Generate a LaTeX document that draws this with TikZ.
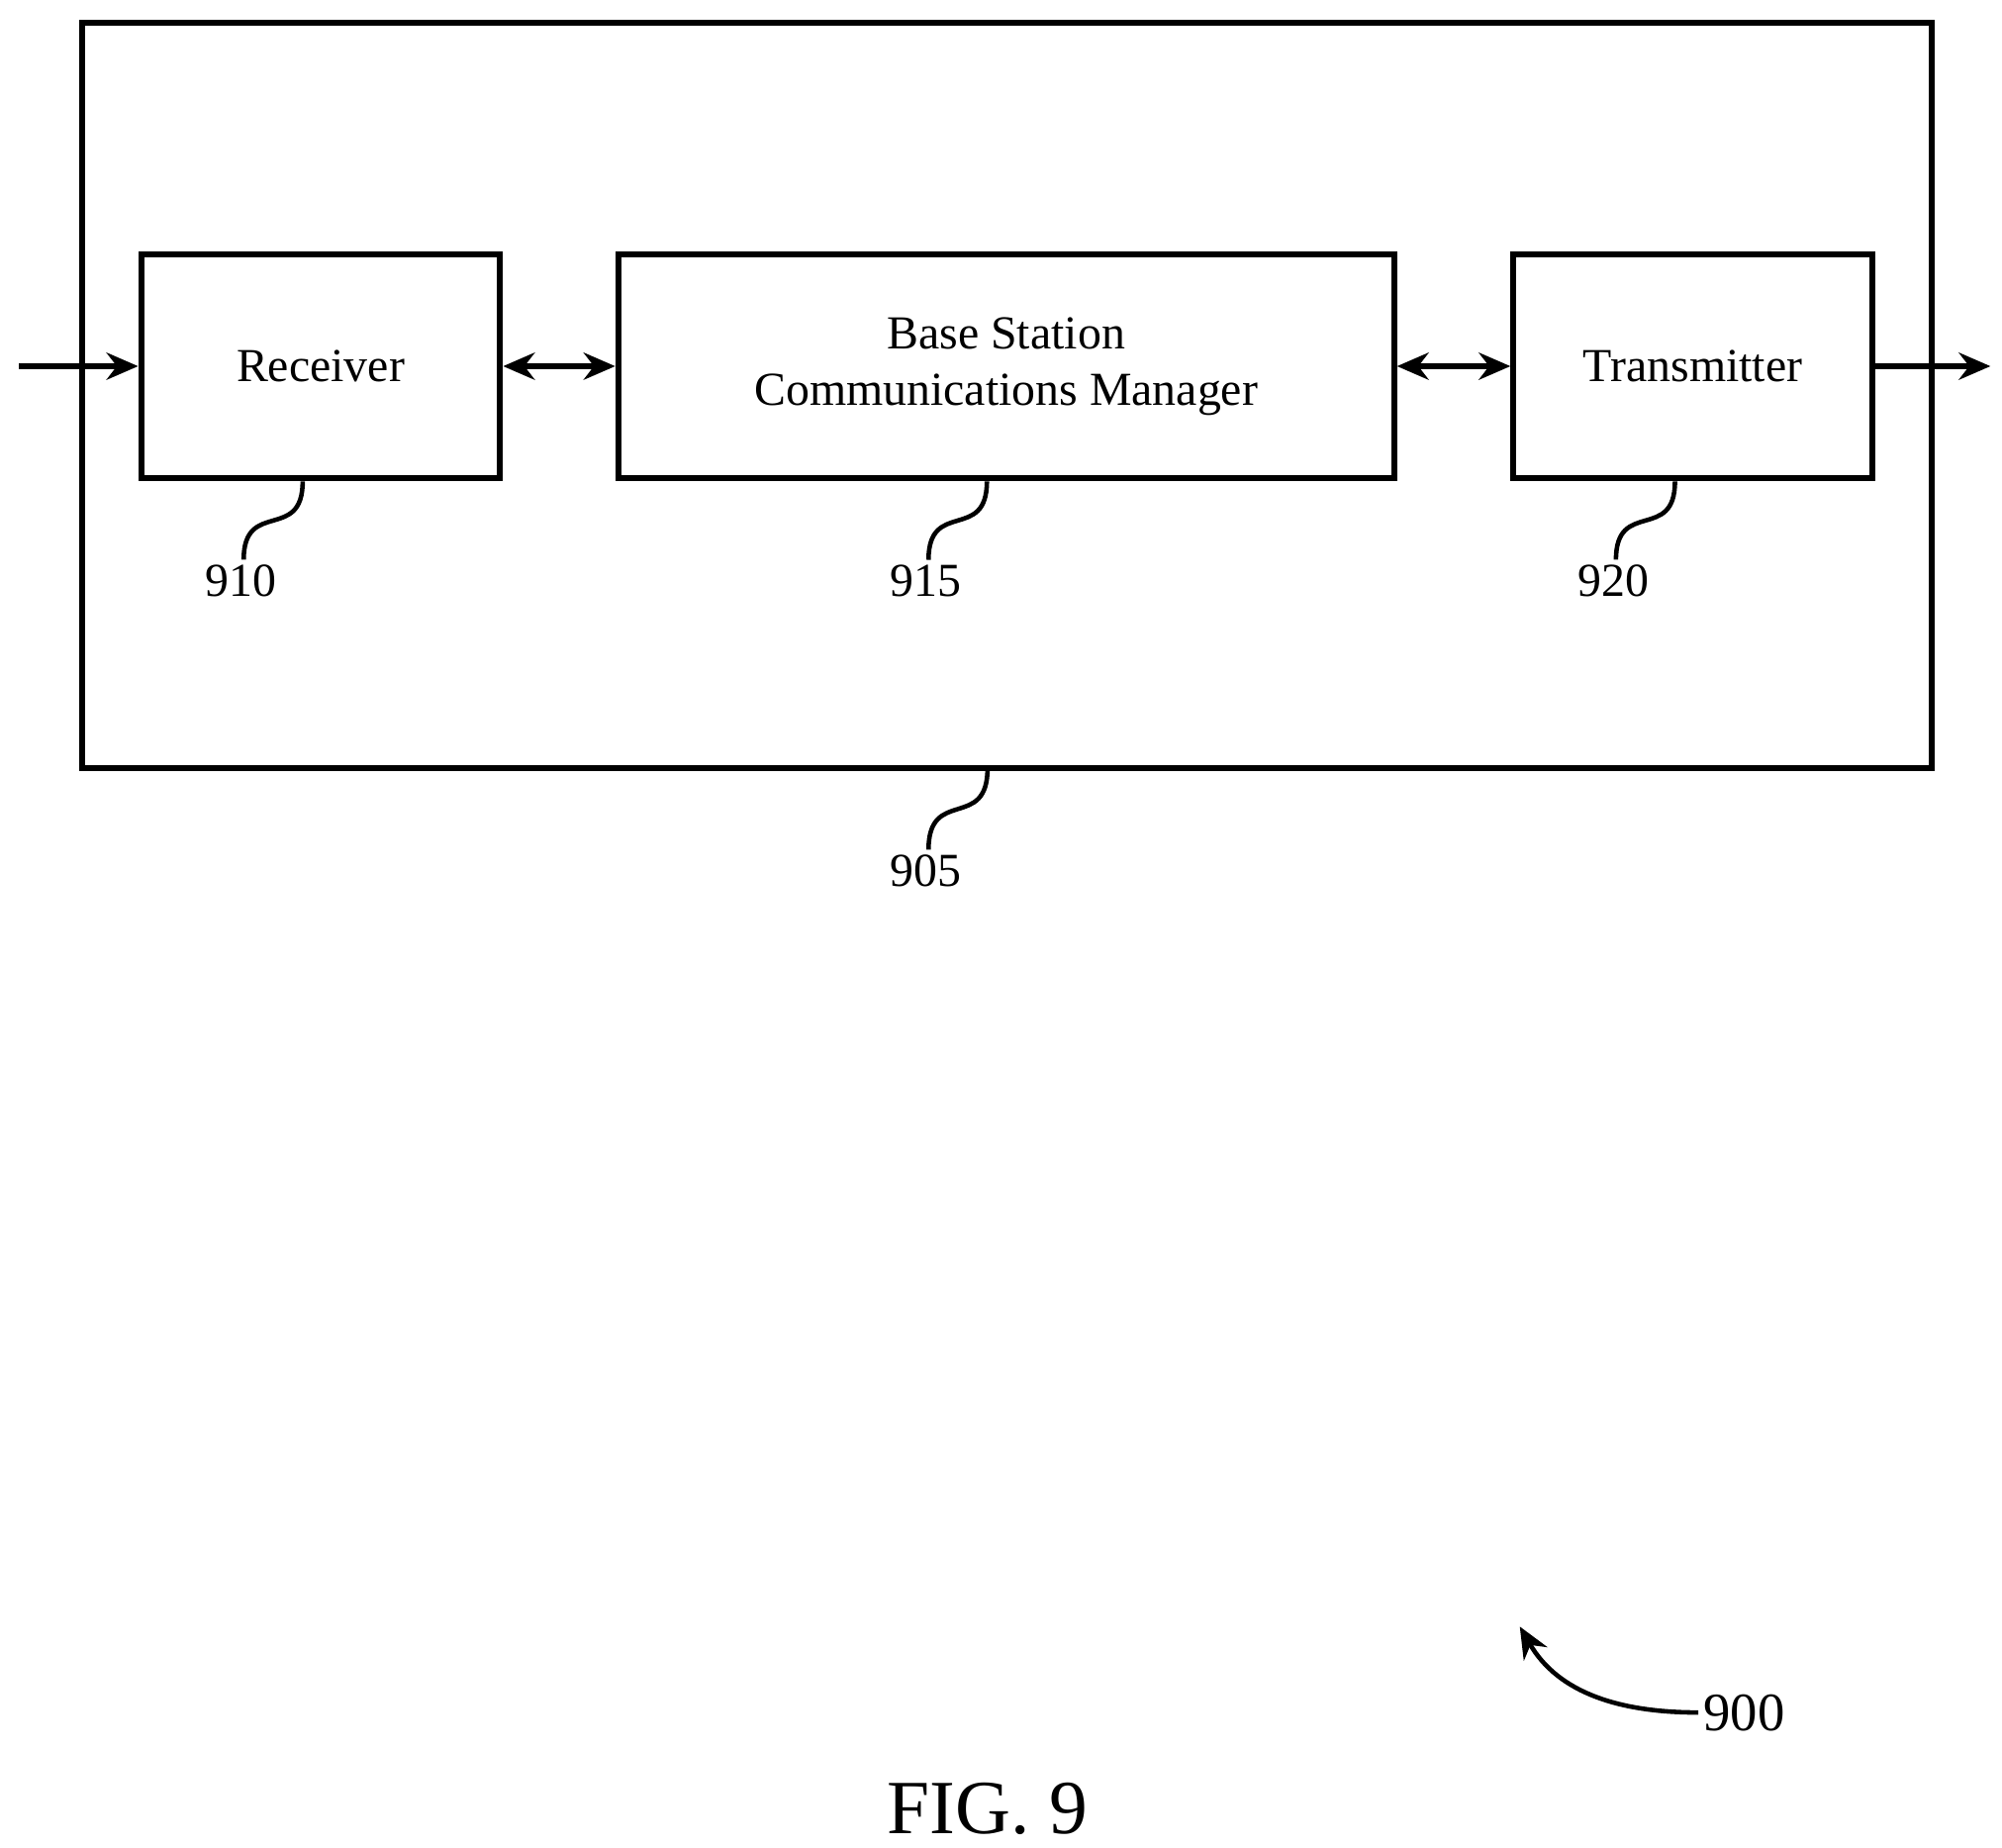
\documentclass[tikz,border=0pt]{standalone}
\usepackage{fontspec}
\setmainfont{Liberation Serif}
\usetikzlibrary{positioning,arrows.meta}
\tikzset{>={Stealth[length=7pt,width=6pt]}}
\tikzset{blk/.style={draw,line width=1.3pt,minimum height=1.75cm,align=center,font=\fontsize{10.5}{12.5}\selectfont},
  num/.style={inner sep=1pt,font=\fontsize{10.5}{12}\selectfont},
  lead/.style={line width=1pt}}
\begin{document}
\begin{tikzpicture}
\useasboundingbox (0,0) rectangle (15.61,14.40);
\draw[line width=1.3pt] (0.64,8.41) rectangle (15.06,14.22);
\node[blk,minimum width=2.8cm] (rx) at (2.50,11.545) {Receiver};
\node[blk,minimum width=6.05cm] (mgr) at (7.845,11.545) {Base Station\\Communications Manager};
\node[blk,minimum width=2.8cm] (tx) at (13.20,11.545) {Transmitter};
\coordinate (in) at (0.15,11.545);
\coordinate (out) at (15.52,11.545);
\draw[->,line width=1.3pt] (in) -- (rx);
\draw[<->,line width=1.3pt] (rx) -- (mgr);
\draw[<->,line width=1.3pt] (mgr) -- (tx);
\draw[->,line width=1.3pt] (tx) -- (out);
% reference numerals
\node[num] (n910) at (1.88,9.87) {910};
\node[num] (n915) at (7.22,9.87) {915};
\node[num] (n920) at (12.58,9.87) {920};
\node[num] (n905) at (7.22,7.61) {905};
\draw[lead] ([xshift=-0.14cm]rx.south) to[out=-90,in=90,looseness=1.6] ([xshift=0.02cm]n910.north);
\draw[lead] ([xshift=-0.15cm]mgr.south) to[out=-90,in=90,looseness=1.6] ([xshift=0.02cm]n915.north);
\draw[lead] ([xshift=-0.14cm]tx.south) to[out=-90,in=90,looseness=1.6] ([xshift=0.02cm]n920.north);
\draw[lead] (7.70,8.41) to[out=-90,in=90,looseness=1.6] ([xshift=0.02cm]n905.north);
\node[num,font=\fontsize{12}{14}\selectfont] (n900) at (13.60,1.05) {900};
\draw[->,lead] (n900.west) to[out=180,in=-60] (11.85,1.72);
\node[font=\fontsize{17}{20}\selectfont] (fig) at (7.70,0.30) {FIG. 9};
\end{tikzpicture}
\end{document}
